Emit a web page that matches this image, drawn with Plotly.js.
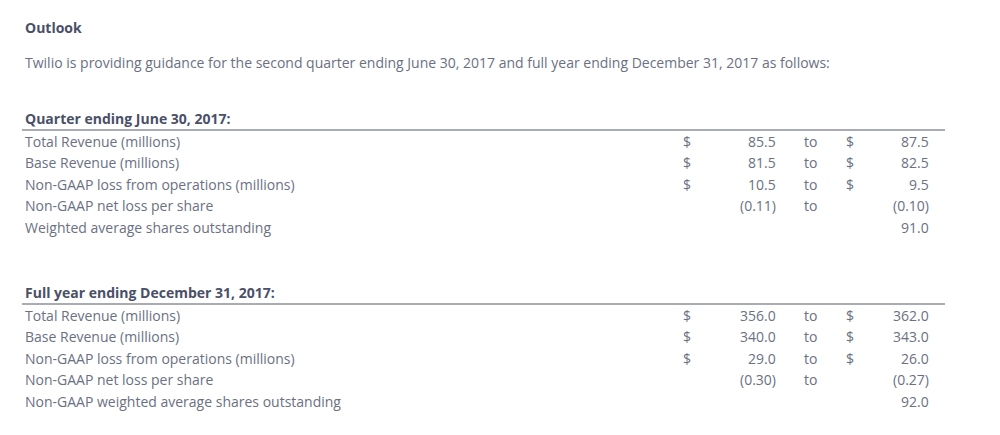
<!DOCTYPE html>
<html>
<head>
<meta charset="utf-8">
<script src="https://cdn.plot.ly/plotly-3.0.1.min.js"></script>
<style>html,body{margin:0;padding:0;background:#fff}#chart{width:1000px;height:435px}</style>
</head>
<body>
<div id="chart"></div>
<script>
// guidance table data
const sectionTitles = ['Quarter ending June 30, 2017:', 'Full year ending December 31, 2017:'];
const q2Labels = ['Total Revenue (millions)', 'Base Revenue (millions)', 'Non-GAAP loss from operations (millions)', 'Non-GAAP net loss per share', 'Weighted average shares outstanding'];
const q2Low = ['85.5', '81.5', '10.5', '(0.11)', ''];
const q2High = ['87.5', '82.5', '9.5', '(0.10)', '91.0'];
const q2Dollar = [true, true, true, false, false];
const fyLabels = ['Total Revenue (millions)', 'Base Revenue (millions)', 'Non-GAAP loss from operations (millions)', 'Non-GAAP net loss per share', 'Non-GAAP weighted average shares outstanding'];
const fyLow = ['356.0', '340.0', '29.0', '(0.30)', ''];
const fyHigh = ['362.0', '343.0', '26.0', '(0.27)', '92.0'];
const fyDollar = [true, true, true, false, false];

const body = '#6b7082', dark = '#4a5068';
const font = '"Open Sans", Lato, sans-serif';
const ann = [];
const shapes = [];
function txt(x, y, t, anchor, color, bold, size) {
    ann.push({x: x, y: y, xref: 'x', yref: 'y', text: bold ? '<b>' + t + '</b>' : t, showarrow: false,
        xanchor: anchor, yanchor: 'middle', font: {family: font, size: size || 14, color: color}});
}
txt(23, 27, 'Outlook', 'left', dark, true, 14);
txt(23, 62, 'Twilio is providing guidance for the second quarter ending June 30, 2017 and full year ending December 31, 2017 as follows:', 'left', body, false, 14);

function section(top, title, labels, low, high, dollar) {
    txt(23, top, title, 'left', dark, true, 14);
    shapes.push({type: 'line', xref: 'x', yref: 'y', x0: 22, x1: 945, y0: top + 12, y1: top + 12, line: {color: '#555a66', width: 1.2}});
    labels.forEach((l, i) => {
        const y = top + 23 + i * 21.6;
        txt(23, y, l, 'left', body, false);
        if (dollar[i]) { txt(687, y, '$', 'center', body); txt(850, y, '$', 'center', body); }
        if (low[i]) txt(778, y, low[i], 'right', body);
        if (low[i]) txt(810, y, 'to', 'center', body);
        txt(931, y, high[i], 'right', body);
    });
}
section(118, sectionTitles[0], q2Labels, q2Low, q2High, q2Dollar);
section(292, sectionTitles[1], fyLabels, fyLow, fyHigh, fyDollar);

const layout = {
    width: 1000, height: 435, margin: {l: 0, r: 0, t: 0, b: 0},
    xaxis: {range: [0, 1000], visible: false, fixedrange: true},
    yaxis: {range: [435, 0], visible: false, fixedrange: true},
    paper_bgcolor: '#fff', plot_bgcolor: '#fff', showlegend: false,
    annotations: ann, shapes: shapes
};
Plotly.newPlot('chart', [], layout, {staticPlot: true});
</script>
</body>
</html>
